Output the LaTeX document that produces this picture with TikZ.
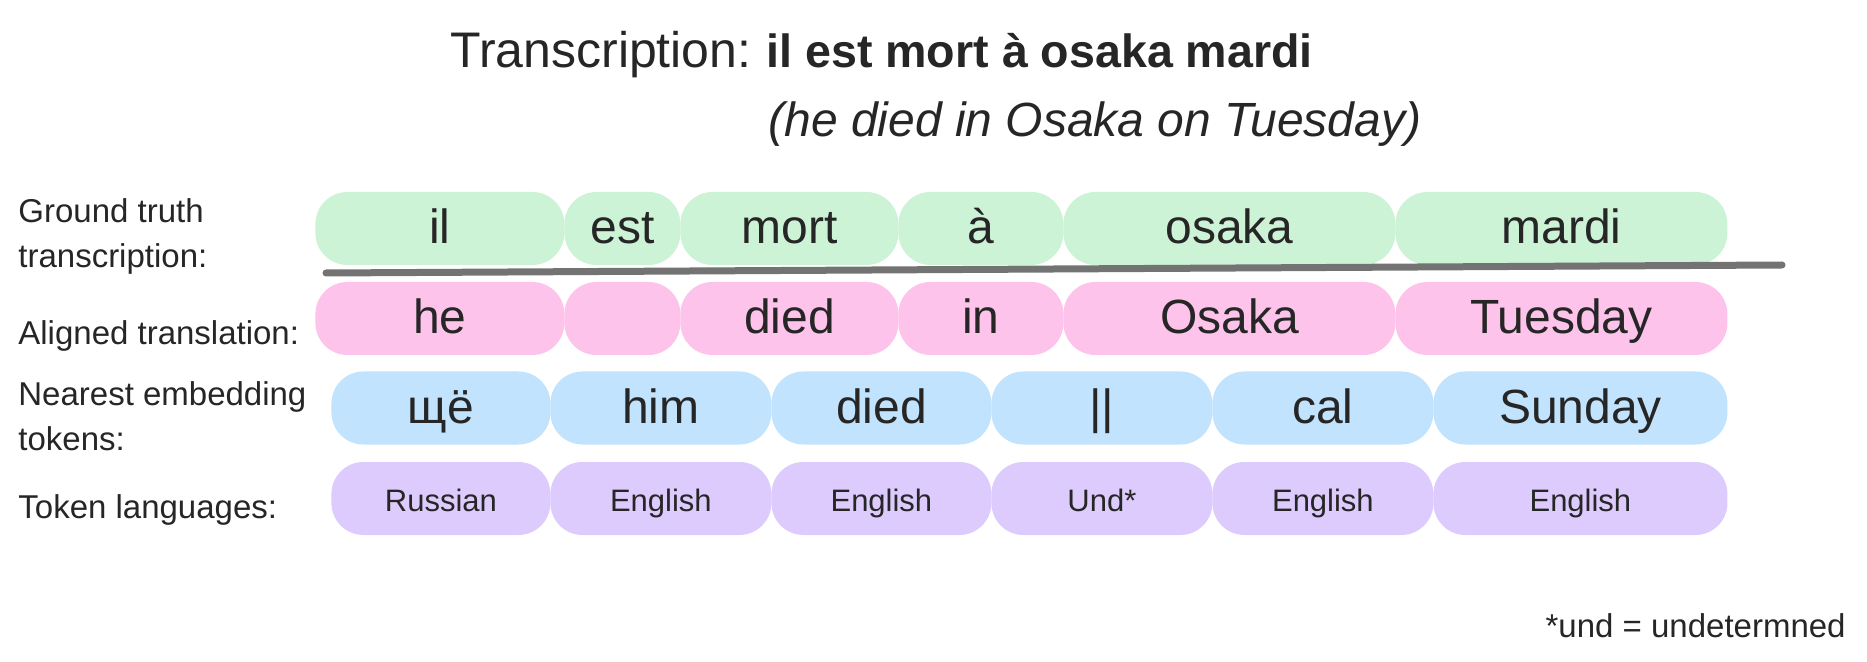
\documentclass[tikz,border=0pt]{standalone}
\usepackage{fontspec}
\setmainfont{Liberation Sans}
\usetikzlibrary{positioning}

\definecolor{gtgreen}{HTML}{CDF3D6}
\definecolor{trpink}{HTML}{FDC3EB}
\definecolor{embblue}{HTML}{C1E3FD}
\definecolor{langlilac}{HTML}{DCCBFC}
\definecolor{inkgrey}{HTML}{262626}
\definecolor{rulegrey}{HTML}{737373}

\tikzset{
  tokbox/.style={rectangle, rounded corners=16pt, inner sep=0pt,
    minimum height=36.5pt, anchor=west, text=inkgrey},
  bigword/.style={font=\fontsize{24}{28}\selectfont, text height=18.4pt, text depth=3pt},
  smallword/.style={font=\fontsize{15.5}{19}\selectfont, text height=14.6pt, text depth=2pt},
  rowlabel/.style={anchor=base west, inner sep=0pt, align=left,
    text=inkgrey, font=\fontsize{16.5}{22.5}\selectfont},
}

\begin{document}
\begin{tikzpicture}[x=0.5pt,y=-0.5pt]
\useasboundingbox (0,0) rectangle (1867,662);

% heading
\node[anchor=base west, inner sep=0pt, text=inkgrey, font=\fontsize{25}{28}\selectfont]
  (title) at (450,68) {Transcription:\kern0.3em{\fontsize{23.3}{28}\selectfont\bfseries il est mort à osaka mardi}};
\node[anchor=base west, inner sep=0pt, text=inkgrey, font=\fontsize{24}{28}\selectfont\itshape]
  (gloss) at (768,137) {(he died in Osaka on Tuesday)};

% row labels (base sits on the last line)
\node[rowlabel] (lblgt) at (18,268) {Ground truth\\transcription:};
\node[rowlabel] (lbltr) at (18,345) {Aligned translation:};
\node[rowlabel] (lblemb) at (18,450) {Nearest embedding\\tokens:};
\node[rowlabel] (lbllang) at (18,518) {Token languages:};

% ground truth words
\foreach \n/\xa/\xb/\w in {1/315/564/il, 2/564/680/est, 3/680/898/mort,
    4/898/1063/à, 5/1063/1395/osaka, 6/1395/1727/mardi}
  \node[tokbox, bigword, fill=gtgreen, minimum width={(\xb-\xa)*0.5pt}]
    (gt\n) at (\xa,228.5) {\w};

% aligned translation
\foreach \n/\xa/\xb/\w in {1/315/564/he, 2/564/680/{}, 3/680/898/died,
    4/898/1063/in, 5/1063/1395/Osaka, 6/1395/1727/Tuesday}
  \node[tokbox, bigword, fill=trpink, minimum width={(\xb-\xa)*0.5pt}]
    (tr\n) at (\xa,318.5) {\w};

% nearest tokens
\foreach \n/\xa/\xb/\w in {1/331/550/щё, 2/550/771/him, 3/771/991/died,
    4/991/1212/||, 5/1212/1433/cal, 6/1433/1727/Sunday}
  \node[tokbox, bigword, fill=embblue, minimum width={(\xb-\xa)*0.5pt}]
    (emb\n) at (\xa,408) {\w};

% token languages
\foreach \n/\xa/\xb/\w in {1/331/550/Russian, 2/550/771/English, 3/771/991/English,
    4/991/1212/Und*, 5/1212/1433/English, 6/1433/1727/English}
  \node[tokbox, smallword, fill=langlilac, minimum width={(\xb-\xa)*0.5pt}]
    (lang\n) at (\xa,498.5) {\w};

% separator under the transcription
\coordinate (rulestart) at (326,273);
\coordinate (ruleend) at (1782,265);
\draw[rulegrey, line width=3.5pt, line cap=round] (rulestart) -- (ruleend);

\node[anchor=base east, inner sep=0pt, text=inkgrey, font=\fontsize{16.5}{19}\selectfont]
  (footnote) at (1846,637) {*und = undetermned};
\end{tikzpicture}
\end{document}
